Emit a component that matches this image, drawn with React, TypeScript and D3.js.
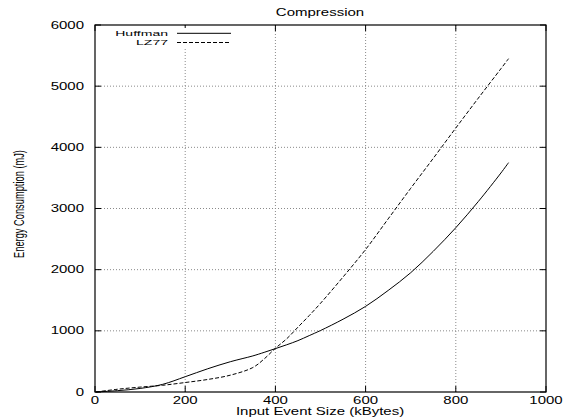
import * as d3 from 'd3';

// input event size (kBytes)
const sizes = [2, 50, 100, 150, 200, 250, 300, 350, 375, 400, 425, 450, 475, 500, 550, 600, 650, 700, 750, 800, 850, 900, 917];
// energy consumption (mJ)
const huffman = [0, 22, 58, 125, 250, 380, 495, 590, 648, 709, 772, 840, 922, 1005, 1190, 1400, 1660, 1950, 2300, 2686, 3115, 3580, 3750];
const lz77 = [0, 45, 80, 110, 155, 205, 275, 400, 540, 715, 870, 1060, 1250, 1450, 1880, 2330, 2830, 3330, 3820, 4316, 4805, 5285, 5450];

const xTicks = [0, 200, 400, 600, 800, 1000];
const yTicks = [0, 1000, 2000, 3000, 4000, 5000, 6000];

const W = 563;
const H = 419;
const FONT = '"Liberation Sans", Arial, sans-serif';
const SX = 1.5; // the postscript text is stretched horizontally

const x = d3.scaleLinear().domain([0, 1000]).range([95, 546]);
const y = d3.scaleLinear().domain([0, 6000]).range([392, 25]);

const series = [
  { name: 'Huffman', values: huffman, dash: undefined as string | undefined },
  { name: 'LZ77', values: lz77, dash: '4,2' },
];

function Label(props: { x: number; y: number; anchor?: string; children: string; size?: number; sx?: number }) {
  return (
    <g transform={`translate(${props.x},${props.y}) scale(${props.sx ?? SX},1)`}>
      <text
        textAnchor={props.anchor ?? 'start'}
        fontFamily={FONT}
        fontSize={props.size ?? 10}
        fill="#000"
      >
        {props.children}
      </text>
    </g>
  );
}

export default function App() {
  const gen = d3
    .line<[number, number]>()
    .x(d => x(d[0]))
    .y(d => y(d[1]))
    .curve(d3.curveCatmullRom.alpha(0.5));

  const [x0, x1] = x.range();
  const [y0, y1] = y.range();
  const tick = 6;

  return (
    <svg
      width={W}
      height={H}
      style={{ position: 'absolute', left: 0, top: 0, background: '#fff' }}
    >
      {/* grid */}
      <g stroke="#8a8a8a" strokeWidth={1} strokeDasharray="1,2">
        {xTicks.slice(1, -1).map(t => (
          <line key={'gx' + t} x1={x(t)} x2={x(t)} y1={y1} y2={y0} />
        ))}
        {yTicks.slice(1, -1).map(t => (
          <line key={'gy' + t} x1={x0} x2={x1} y1={y(t)} y2={y(t)} />
        ))}
      </g>

      {/* ticks */}
      <g stroke="#000" strokeWidth={1}>
        {xTicks.map(t => (
          <g key={'tx' + t}>
            <line x1={x(t)} x2={x(t)} y1={y0} y2={y0 - tick} />
            <line x1={x(t)} x2={x(t)} y1={y1} y2={y1 + tick} />
          </g>
        ))}
        {yTicks.map(t => (
          <g key={'ty' + t}>
            <line x1={x0} x2={x0 + tick} y1={y(t)} y2={y(t)} />
            <line x1={x1} x2={x1 - tick} y1={y(t)} y2={y(t)} />
          </g>
        ))}
      </g>

      {/* legend background */}
      <rect x={105} y={28} width={132} height={19} fill="#fff" />

      {/* curves */}
      {series.map(s => (
        <path
          key={s.name}
          d={gen(sizes.map((v, i) => [v, s.values[i]] as [number, number])) ?? ''}
          fill="none"
          stroke="#000"
          strokeWidth={1}
          strokeDasharray={s.dash}
        />
      ))}

      {/* frame */}
      <rect x={x0} y={y1} width={x1 - x0} height={y0 - y1} fill="none" stroke="#000" strokeWidth={1.2} />

      {/* tick labels */}
      {xTicks.map(t => (
        <Label key={'lx' + t} x={x(t)} y={404} anchor="middle">
          {String(t)}
        </Label>
      ))}
      {yTicks.map(t => (
        <Label key={'ly' + t} x={84} y={y(t) + 3.5} anchor="end">
          {String(t)}
        </Label>
      ))}

      {/* legend */}
      {series.map((s, i) => (
        <g key={'lg' + s.name}>
          <Label x={168} y={35.6 + i * 9.4} anchor="end" size={7.8} sx={1.8}>
            {s.name}
          </Label>
          <line
            x1={177}
            x2={231}
            y1={33.3 + i * 9.2}
            y2={33.3 + i * 9.2}
            stroke="#000"
            strokeWidth={1}
            strokeDasharray={s.dash}
          />
        </g>
      ))}

      {/* titles */}
      <Label x={320} y={16} anchor="middle">
        Compression
      </Label>
      <Label x={320} y={415} anchor="middle">
        Input Event Size (kBytes)
      </Label>
      <g transform={`translate(24,204) scale(${SX},1)`}>
        <text
          transform="rotate(-90)"
          textAnchor="middle"
          fontFamily={FONT}
          fontSize={9.3}
          fill="#000"
        >
          Energy Consumption (mJ)
        </text>
      </g>
    </svg>
  );
}
